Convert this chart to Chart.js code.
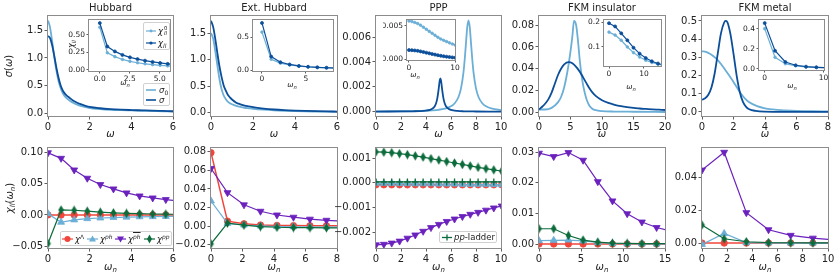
<!DOCTYPE html>
<html><head><meta charset="utf-8">
<script src="https://cdn.jsdelivr.net/npm/chart.js@4.4.1/dist/chart.umd.min.js"></script>
<style>
html,body{margin:0;padding:0;background:#fff}
#root{position:relative;width:839px;height:278px;overflow:hidden;font-family:'DejaVu Sans',sans-serif;color:#222}
#plots canvas{position:absolute;left:0;top:0}
.tx{position:absolute;white-space:nowrap;line-height:1;transform:translate(-50%,-50%)}
.rot{transform:translate(-50%,-50%) rotate(-90deg)}
.leg{position:absolute;background:rgba(255,255,255,0.88);border:1px solid #d0d0d0;border-radius:2px;box-sizing:border-box}
.row{position:absolute;display:flex;align-items:center;white-space:nowrap;line-height:1}
sub,sup{font-size:0.7em;line-height:0;position:relative;vertical-align:baseline}
sup{top:-0.45em} sub{top:0.3em}
.ss{display:inline-flex;flex-direction:column;font-size:0.62em;line-height:0.95;vertical-align:middle;margin-left:1px}
</style></head><body>
<div id="root"><div id="plots"></div>
<div class="tx" style="left:110.5px;top:8px;font-size:10px">Hubbard</div>
<div class="tx" style="left:274px;top:8px;font-size:10px">Ext. Hubbard</div>
<div class="tx" style="left:438.5px;top:8px;font-size:10px">PPP</div>
<div class="tx" style="left:602px;top:8px;font-size:10px">FKM insulator</div>
<div class="tx" style="left:765px;top:8px;font-size:10px">FKM metal</div>
<div class="tx" style="left:110.5px;top:134px;font-size:10px"><i>ω</i></div>
<div class="tx" style="left:274px;top:134px;font-size:10px"><i>ω</i></div>
<div class="tx" style="left:438.5px;top:134px;font-size:10px"><i>ω</i></div>
<div class="tx" style="left:602px;top:134px;font-size:10px"><i>ω</i></div>
<div class="tx" style="left:765px;top:134px;font-size:10px"><i>ω</i></div>
<div class="tx" style="left:110.5px;top:267px;font-size:10px"><i>ω</i><sub><i>n</i></sub></div>
<div class="tx" style="left:274px;top:267px;font-size:10px"><i>ω</i><sub><i>n</i></sub></div>
<div class="tx" style="left:438.5px;top:267px;font-size:10px"><i>ω</i><sub><i>n</i></sub></div>
<div class="tx" style="left:602px;top:267px;font-size:10px"><i>ω</i><sub><i>n</i></sub></div>
<div class="tx" style="left:765px;top:267px;font-size:10px"><i>ω</i><sub><i>n</i></sub></div>
<div class="tx rot" style="left:9px;top:66px;font-size:10px"><i>σ</i>(<i>ω</i>)</div>
<div class="tx rot" style="left:10px;top:198px;font-size:10px"><i>χ</i><sub><i>ll</i></sub>(<i>ω</i><sub><i>n</i></sub>)</div>
<div class="tx" style="left:125px;top:83px;font-size:7.5px"><i>ω</i><sub><i>n</i></sub></div>
<div class="tx" style="left:292px;top:85px;font-size:7.5px"><i>ω</i><sub><i>n</i></sub></div>
<div class="tx" style="left:415px;top:75px;font-size:7.5px"><i>ω</i><sub><i>n</i></sub></div>
<div class="tx" style="left:631px;top:87px;font-size:7.5px"><i>ω</i><sub><i>n</i></sub></div>
<div class="tx" style="left:792px;top:86px;font-size:7.5px"><i>ω</i><sub><i>n</i></sub></div>
<div class="tx rot" style="left:72px;top:44px;font-size:8px"><i>χ</i><sub><i>ll</i></sub></div>

<div class="leg" style="left:143px;top:83px;width:27px;height:23px;font-size:8.5px">
 <div class="row" style="left:2px;top:2px"><svg width="11" height="8"><line x1="0" y1="4" x2="10" y2="4" stroke="#6baed6" stroke-width="1.6"/></svg><span style="margin-left:2px"><i>σ</i><sub>0</sub></span></div>
 <div class="row" style="left:2px;top:12px"><svg width="11" height="8"><line x1="0" y1="4" x2="10" y2="4" stroke="#0b4e99" stroke-width="1.6"/></svg><span style="margin-left:2px"><i>σ</i></span></div>
</div>
<div class="leg" style="left:143px;top:22px;width:27px;height:28px;font-size:8.5px">
 <div class="row" style="left:2px;top:3px"><svg width="10" height="8"><line x1="0" y1="4" x2="10" y2="4" stroke="#6baed6" stroke-width="1.2"/><circle cx="5" cy="4" r="1.4" fill="#6baed6"/></svg><span style="margin-left:2px"><i>χ</i><span class="ss"><span>0</span><i>ll</i></span></span></div>
 <div class="row" style="left:2px;top:16px"><svg width="10" height="8"><line x1="0" y1="4" x2="10" y2="4" stroke="#0b4e99" stroke-width="1.2"/><circle cx="5" cy="4" r="1.6" fill="#0b4e99"/></svg><span style="margin-left:2px"><i>χ</i><sub><i>ll</i></sub></span></div>
</div>
<div class="leg" style="left:60px;top:231px;width:112px;height:15px;font-size:8.5px">
 <div class="row" style="left:1px;top:2px"><svg width="11" height="10"><line x1="0" y1="5" x2="11" y2="5" stroke="#f1453b" stroke-width="1.2"/><circle cx="5.5" cy="5" r="3" fill="#f1453b"/></svg><span style="margin-left:2px"><i>χ</i><sup>Λ</sup></span></div>
 <div class="row" style="left:26px;top:2px"><svg width="11" height="10"><line x1="0" y1="5" x2="11" y2="5" stroke="#6baed6" stroke-width="1.2"/><polygon points="5.5,1.5 9,7.5 2,7.5" fill="#6baed6"/></svg><span style="margin-left:2px"><i>χ</i><sup><i>ph</i></sup></span></div>
 <div class="row" style="left:54px;top:2px"><svg width="11" height="10"><line x1="0" y1="5" x2="11" y2="5" stroke="#6b21bd" stroke-width="1.2"/><polygon points="2,2.5 9,2.5 5.5,8.5" fill="#6b21bd"/></svg><span style="margin-left:2px"><i>χ</i><sup><span style="text-decoration:overline"><i>ph</i></span></sup></span></div>
 <div class="row" style="left:83px;top:2px"><svg width="11" height="10"><line x1="0" y1="5" x2="11" y2="5" stroke="#0c6b3b" stroke-width="1.2"/><polygon points="5.5,0.5 8,5 5.5,9.5 3,5" fill="#0c6b3b"/></svg><span style="margin-left:2px"><i>χ</i><sup><i>pp</i></sup></span></div>
</div>
<div class="leg" style="left:439px;top:231px;width:58px;height:12px;font-size:8.5px">
 <div class="row" style="left:2px;top:1px"><svg width="10" height="9"><line x1="0" y1="4.5" x2="10" y2="4.5" stroke="#0c6b3b" stroke-width="1.3"/><line x1="5" y1="1.5" x2="5" y2="7.5" stroke="#0c6b3b" stroke-width="1.3"/></svg><span style="margin-left:2px"><i>pp</i>-ladder</span></div>
</div>
</div>
<script>
// ================= DATA =================
// --- top row: sigma(omega) ---
const hubW      = [0,0.1,0.2,0.3,0.4,0.5,0.6,0.7,0.8,0.9,1.0,1.2,1.4,1.6,1.8,2.0,2.5,3.0,3.5,4.0,4.5,5.0,5.5,6.0];
const hubSigma0 = [1.68,1.55,1.30,1.02,0.78,0.59,0.46,0.37,0.31,0.27,0.24,0.19,0.155,0.13,0.11,0.095,0.075,0.062,0.055,0.05,0.045,0.04,0.035,0.03];
const hubSigma  = [1.40,1.36,1.23,1.04,0.83,0.65,0.51,0.42,0.36,0.32,0.29,0.23,0.19,0.16,0.135,0.115,0.09,0.075,0.065,0.058,0.052,0.046,0.041,0.036];

const extW      = [0,0.1,0.2,0.3,0.4,0.5,0.6,0.7,0.8,0.9,1.0,1.2,1.4,1.6,1.8,2.0,2.5,3.0,3.5,4.0,4.5,5.0,5.5,6.0];
const extSigma0 = [1.50,1.40,1.17,0.90,0.64,0.45,0.33,0.26,0.21,0.18,0.16,0.13,0.11,0.095,0.085,0.075,0.058,0.046,0.038,0.032,0.027,0.024,0.021,0.018];
const extSigma  = [1.73,1.62,1.40,1.13,0.88,0.68,0.52,0.42,0.34,0.29,0.25,0.19,0.16,0.135,0.12,0.105,0.08,0.062,0.05,0.042,0.036,0.031,0.027,0.024];

const pppW0     = [0,1,2,3,4,4.5,5,5.5,6,6.3,6.6,6.8,7.0,7.1,7.2,7.3,7.4,7.5,7.6,7.7,7.8,8.0,8.2,8.5,8.8,9.3,10];
const pppSigma0 = [0.000016,0.000022,0.000031,0.000046,0.000077,0.000105,0.00015,0.00024,0.00043,0.00068,0.00118,0.00187,0.00319,0.00424,0.00554,0.0068,0.00735,0.0068,0.00554,0.00424,0.00319,0.00187,0.00118,0.00068,0.00043,0.00024,0.00013];
const pppW1     = [0,1,2,3,3.5,4,4.3,4.5,4.7,4.8,4.9,5.0,5.05,5.1,5.15,5.2,5.25,5.3,5.4,5.5,5.6,5.8,6.0,6.5,7,8,9,10];
const pppSigma  = [0.00001,0.000012,0.000018,0.00003,0.000045,0.00008,0.00014,0.00023,0.00044,0.00066,0.00105,0.00172,0.00214,0.00252,0.00268,0.00252,0.00214,0.00172,0.00105,0.00066,0.00044,0.00023,0.00014,0.00006,0.00003,0.000013,0.000007,0.000005];

const fkmiW0     = [0,1,2,3,3.5,4,4.5,5,5.3,5.55,5.9,6.2,6.5,6.8,7.0,7.3,7.6,8,8.5,9,10,12,15,20];
const fkmiSigma0 = [0.0025,0.0025,0.004,0.009,0.014,0.023,0.037,0.056,0.07,0.084,0.08,0.065,0.046,0.032,0.025,0.017,0.011,0.006,0.003,0.0018,0.001,0.0006,0.0004,0.0002];
const fkmiW1     = [0,0.5,1,1.5,2,2.5,3,3.5,4,4.7,5.3,6,6.5,7,7.5,8,8.5,9,10,11,12,13,14,15,16,17,18,19,20];
const fkmiSigma  = [0.0025,0.005,0.008,0.012,0.018,0.026,0.034,0.04,0.044,0.046,0.045,0.041,0.037,0.032,0.027,0.022,0.018,0.015,0.011,0.0085,0.0068,0.0055,0.0046,0.004,0.0034,0.003,0.0026,0.0023,0.002];

const fkmmW0     = [0,0.25,0.5,0.75,1.0,1.25,1.5,1.75,2.0,2.25,2.5,2.75,3.0,3.5,4.0,4.5,5,6,7,8];
const fkmmSigma0 = [0.333,0.33,0.32,0.305,0.285,0.258,0.228,0.197,0.165,0.13,0.097,0.072,0.053,0.032,0.02,0.014,0.01,0.006,0.004,0.003];
const fkmmW1     = [0,0.2,0.4,0.6,0.8,1.0,1.2,1.4,1.5,1.6,1.8,2.0,2.2,2.4,2.6,2.8,3.0,3.4,4,5,6,8];
const fkmmSigma  = [0.068,0.075,0.095,0.135,0.21,0.32,0.43,0.49,0.5,0.495,0.43,0.32,0.2,0.11,0.055,0.028,0.015,0.006,0.002,0.001,0.0005,0.0002];

// --- Matsubara frequencies ---
const hubWn  = [0,0.628,1.257,1.885,2.513,3.142,3.770,4.398,5.027,5.655,6.283];
const extWn  = [0,1.047,2.094,3.142,4.189,5.236,6.283,7.330,8.378];
const pppWn  = [0,0.628,1.257,1.885,2.513,3.142,3.770,4.398,5.027,5.655,6.283,6.912,7.540,8.168,8.796,9.425,10.053];
const fkmiWn = [0,1.75,3.5,5.25,7.0,8.75,10.5,12.25,14.0,15.75];
const fkmmWn = [0,1.76,3.52,5.28,7.04,8.80,10.56];

// --- insets: chi_ll^0 and chi_ll ---
const hubChi0  = [0.61,0.245,0.19,0.15,0.123,0.103,0.088,0.076,0.066,0.058,0.051];
const hubChi   = [0.67,0.335,0.265,0.215,0.18,0.155,0.133,0.115,0.1,0.087,0.075];
const extChi0  = [0.58,0.165,0.105,0.077,0.059,0.047,0.039,0.033,0.029];
const extChi   = [0.72,0.205,0.12,0.085,0.063,0.05,0.041,0.035,0.03];
const pppChi0  = [0.0057,0.00562,0.00548,0.00532,0.00508,0.00478,0.00447,0.00416,0.00388,0.00358,0.00328,0.00302,0.00282,0.00264,0.00245,0.00228,0.00212];
const pppChi   = [0.00138,0.00136,0.00132,0.00126,0.00118,0.00109,0.00099,0.00089,0.00079,0.0007,0.00061,0.00053,0.00046,0.0004,0.00034,0.00029,0.00025];
const fkmiChi0 = [0.16,0.148,0.127,0.10,0.077,0.059,0.046,0.037,0.03,0.025];
const fkmiChi  = [0.196,0.183,0.155,0.127,0.097,0.073,0.055,0.042,0.033,0.027];
const fkmmChi0 = [0.40,0.115,0.05,0.03,0.019,0.014,0.01];
const fkmmChi  = [0.455,0.18,0.068,0.035,0.021,0.015,0.011];

// --- bottom row: channel decomposition ---
const hubLam = [0,-0.0003,-0.0002,-0.0002,-0.0001,-0.0001,0,0,0,0,0];
const hubPh  = [0.002,-0.0118,-0.008,-0.006,-0.005,-0.0042,-0.0036,-0.0031,-0.0028,-0.0025,-0.0023];
const hubPhb = [0.100,0.091,0.0723,0.059,0.0488,0.0418,0.0354,0.0305,0.0273,0.0247,0.0222];
const hubPp  = [-0.046,0.008,0.0075,0.006,0.0045,0.0033,0.0025,0.002,0.0015,0.0012,0.001];

const extLam = [0.079,0.0054,0.0025,0.0012,0.0008,0.0006,0.0005,0.0004,0.0004];
const extPh  = [0.027,0.003,0.0012,0.0002,-0.0004,-0.0007,-0.0009,-0.001,-0.001];
const extPhb = [0.062,0.036,0.0229,0.016,0.012,0.0096,0.0075,0.0063,0.0054];
const extPp  = [-0.019,0.0032,0.001,-0.0005,-0.0012,-0.0015,-0.0017,-0.0018,-0.0019];

const pppLam    = [-0.00008,-0.00008,-0.00008,-0.00008,-0.00008,-0.00008,-0.00008,-0.00008,-0.00008,-0.00008,-0.00008,-0.00008,-0.00008,-0.00008,-0.00008,-0.00008,-0.00008];
const pppPh     = [-0.00001,-0.00002,-0.00002,-0.00003,-0.00003,-0.00004,-0.00004,-0.00004,-0.00005,-0.00005,-0.00005,-0.00006,-0.00006,-0.00006,-0.00006,-0.00007,-0.00007];
const pppPhb    = [-0.00252,-0.0025,-0.00245,-0.00237,-0.00225,-0.00212,-0.00197,-0.00182,-0.00169,-0.00157,-0.00147,-0.00137,-0.00128,-0.0012,-0.00111,-0.00102,-0.00094];
const pppPp     = [0.00126,0.00125,0.00123,0.00119,0.00115,0.0011,0.00105,0.00099,0.00093,0.00087,0.00081,0.00075,0.00069,0.00063,0.00058,0.00053,0.00048];
const pppLadder = [0.00004,0.00004,0.00004,0.00004,0.00004,0.00004,0.00004,0.00004,0.00004,0.00004,0.00004,0.00004,0.00004,0.00004,0.00004,0.00004,0.00004];

const fkmiLam = [0,0,0,0,0,0,0,0,0,0];
const fkmiPh  = [0.0011,0.0012,0.0013,0.001,0.0005,0.0002,0.0001,0.00005,0.00002,0.00001];
const fkmiPhb = [0.0297,0.0286,0.0299,0.0274,0.0204,0.0141,0.0099,0.0072,0.0054,0.0042];
const fkmiPp  = [0.005,0.005,0.0028,0.0013,0.0006,0.0003,0.0002,0.0001,0.0001,0.0001];

const fkmmLam = [0,0,0,0,0,0,0];
const fkmmPh  = [-0.0008,0.0058,0.0003,0.0001,0,0,0];
const fkmmPhb = [0.0444,0.0552,0.0185,0.0081,0.0047,0.003,0.0019];
const fkmmPp  = [0.011,0.0026,0.0008,0.0003,0.0002,0.0001,0.0001];

// --- tick values ---
const topYTicks = [[0,0.5,1.0,1.5],[0,0.5,1.0,1.5],[0,0.002,0.004,0.006],[0,0.02,0.04,0.06,0.08],[0,0.1,0.2,0.3,0.4,0.5]];
const topXTicks = [[0,2,4,6],[0,2,4,6],[0,2,4,6,8,10],[0,5,10,15,20],[0,2,4,6,8]];
const botYTicks = [[-0.05,0,0.05,0.10],[-0.02,0,0.02,0.04,0.06,0.08],[-0.002,-0.001,0,0.001],[0,0.01,0.02,0.03],[0,0.02,0.04]];
const botXTicks = [[0,2,4,6],[0,2,4,6,8],[0,2,4,6,8,10],[0,5,10,15],[0,2,4,6,8,10]];
const insYTicks = [[0,0.25,0.5],[0,0.5],[0,0.005],[0.1,0.2],[0,0.2,0.4]];
const insXTicks = [[0,2.5,5],[0,5],[0,10],[0,10],[0,10]];

// ================= RENDER =================
const W=839,H=278;
Chart.defaults.font.family="'DejaVu Sans', sans-serif";
Chart.defaults.color='#222';
const C={light:'#6baed6',dark:'#0b4e99',red:'#f1453b',ph:'#6baed6',phb:'#6b21bd',pp:'#0c6b3b'};

function thinDiamond(col){const cv=document.createElement('canvas');cv.width=7;cv.height=10;const x=cv.getContext('2d');x.fillStyle=col;x.beginPath();x.moveTo(3.5,0.3);x.lineTo(6.3,5);x.lineTo(3.5,9.7);x.lineTo(0.7,5);x.closePath();x.fill();return cv;}
const DIAM=thinDiamond(C.pp);

const framePlugin={id:'frame',
 beforeDraw(c,a,o){ if(!o.bg) return; const ca=c.chartArea,x=c.ctx; x.save(); x.fillStyle='#fff'; x.fillRect(ca.left,ca.top,ca.width,ca.height); x.restore(); },
 afterDraw(c){ const ca=c.chartArea,x=c.ctx; x.save(); x.strokeStyle='#8c8c8c'; x.lineWidth=1; x.strokeRect(Math.round(ca.left)-0.5,Math.round(ca.top)-0.5,Math.round(ca.width)+1,Math.round(ca.height)+1); x.restore(); }
};
function fmt(v,d){ if(Math.abs(v)<1e-12) v=0; return v.toFixed(d).replace('-','\u2212'); }

function mk(o){
  const cv=document.createElement('canvas'); cv.width=W; cv.height=H;
  document.getElementById('plots').appendChild(cv);
  const YW=o.yw||44, XH=o.xh||20, fs=o.fs||10, tl=o.tl||3.5, tp=o.tp||1.5;
  const ds=o.series.map(s=>({
    data:s.x.map((x,i)=>({x:x,y:s.y[i]})),
    borderColor:s.c, backgroundColor:s.c, borderWidth:s.lw||1.5,
    pointRadius:s.r||0, pointStyle:s.ps||'circle', pointRotation:s.rot||0,
    pointBackgroundColor:s.c, pointBorderColor:s.c, pointBorderWidth:s.pbw||0.8,
    tension:0, cubicInterpolationMode:s.mono?'monotone':'default', fill:false
  })).reverse();
  const axis=(ticks,dec,isX)=>({
    type:'linear', bounds:'data',
    min:isX?o.xr[0]:o.yr[0], max:isX?o.xr[1]:o.yr[1],
    afterFit:s=>{ if(isX) s.height=XH; else s.width=YW; },
    afterBuildTicks:s=>{ s.ticks=ticks.map(v=>({value:v})); },
    ticks:{callback:v=>fmt(v,dec), font:{size:fs}, color:'#222', padding:tp, maxRotation:0, autoSkip:false},
    grid:{drawOnChartArea:false, tickLength:tl, color:'#333', lineWidth:0.8},
    border:{display:false}
  });
  new Chart(cv,{type:'line',data:{datasets:ds},options:{
    responsive:false, animation:false, devicePixelRatio:1, events:[],
    layout:{padding:{left:o.box[0]-YW, top:o.box[1], right:W-o.box[2], bottom:H-o.box[3]-XH}},
    plugins:{legend:{display:false}, tooltip:{enabled:false}, frame:{bg:!!o.bg}},
    scales:{x:axis(o.xt,o.xd,true), y:axis(o.yt,o.yd,false)}
  }, plugins:[framePlugin]});
}

const cols=[[48,173],[211,337],[376,501],[539,665],[702,828]];

// top row
const topData=[[hubW,hubSigma0,hubW,hubSigma],[extW,extSigma0,extW,extSigma],[pppW0,pppSigma0,pppW1,pppSigma],[fkmiW0,fkmiSigma0,fkmiW1,fkmiSigma],[fkmmW0,fkmmSigma0,fkmmW1,fkmmSigma]];
const topXR=[[0,6],[0,6],[0,10],[0,20],[0,8]];
const topYR=[[-0.05,1.76],[-0.06,1.82],[-0.00035,0.0077],[-0.0035,0.0885],[-0.022,0.527]];
const topYD=[1,1,3,2,1];
topData.forEach((d,i)=>{
  mk({box:[cols[i][0],16,cols[i][1],116], xr:topXR[i], yr:topYR[i], xt:topXTicks[i], yt:topYTicks[i], xd:0, yd:topYD[i],
      series:[{x:d[0],y:d[1],c:C.light,lw:1.8,mono:true},{x:d[2],y:d[3],c:C.dark,lw:1.8,mono:true}]});
});

// insets
const insBox=[[89,20,170,71],[253,20,333,71],[407,20,455,60],[604,20,661,66],[759,20,824,70]];
const insXR=[[-0.9,5.85],[-1.02,8.07],[-0.43,10],[-1.43,14.86],[-0.97,10.1]];
const insYR=[[-0.015,0.714],[-0.015,0.765],[-0.0001,0.00585],[0.023,0.209],[-0.012,0.486]];
const insXD=[1,0,0,0,0], insYD=[2,1,3,1,1];
const insData=[[hubWn,hubChi0,hubChi],[extWn,extChi0,extChi],[pppWn,pppChi0,pppChi],[fkmiWn,fkmiChi0,fkmiChi],[fkmmWn,fkmmChi0,fkmmChi]];
insData.forEach((d,i)=>{
  mk({box:insBox[i], bg:true, yw:24, xh:12, fs:7.5, tl:2.5, tp:1.5, xr:insXR[i], yr:insYR[i], xt:insXTicks[i], yt:insYTicks[i], xd:insXD[i], yd:insYD[i],
      series:[{x:d[0],y:d[1],c:C.light,lw:1.2,r:1.3},{x:d[0],y:d[2],c:C.dark,lw:1.2,r:1.5}]});
});

// bottom row
const S={
  lam:{c:C.red,ps:'circle',r:3.2,lw:1.5},
  ph:{c:C.ph,ps:'triangle',r:4,lw:1.2},
  phb:{c:C.phb,ps:'triangle',rot:180,r:4,lw:1.2},
  pp:{c:C.pp,ps:DIAM,r:4,lw:1.2}
};
const botData=[[hubWn,hubLam,hubPh,hubPhb,hubPp],[extWn,extLam,extPh,extPhb,extPp],[pppWn,pppLam,pppPh,pppPhb,pppPp],[fkmiWn,fkmiLam,fkmiPh,fkmiPhb,fkmiPp],[fkmmWn,fkmmLam,fkmmPh,fkmmPhb,fkmmPp]];
const botXR=[[0,6],[0,8],[0,10],[0,15],[0,10]];
const botYR=[[-0.0532,0.1076],[-0.0235,0.084],[-0.00265,0.00142],[-0.0013,0.0314],[-0.003,0.0578]];
const botYD=[2,2,3,2,2];
botData.forEach((d,i)=>{
  const ser=[Object.assign({x:d[0],y:d[1]},S.lam),Object.assign({x:d[0],y:d[2]},S.ph),Object.assign({x:d[0],y:d[3]},S.phb),Object.assign({x:d[0],y:d[4]},S.pp)];
  if(i===2) ser.push({x:pppWn,y:pppLadder,c:C.pp,ps:'cross',r:3.5,lw:1.4,pbw:1.3});
  mk({box:[cols[i][0],148,cols[i][1],248], xr:botXR[i], yr:botYR[i], xt:botXTicks[i], yt:botYTicks[i], xd:0, yd:botYD[i], series:ser});
});
</script>
</body></html>
